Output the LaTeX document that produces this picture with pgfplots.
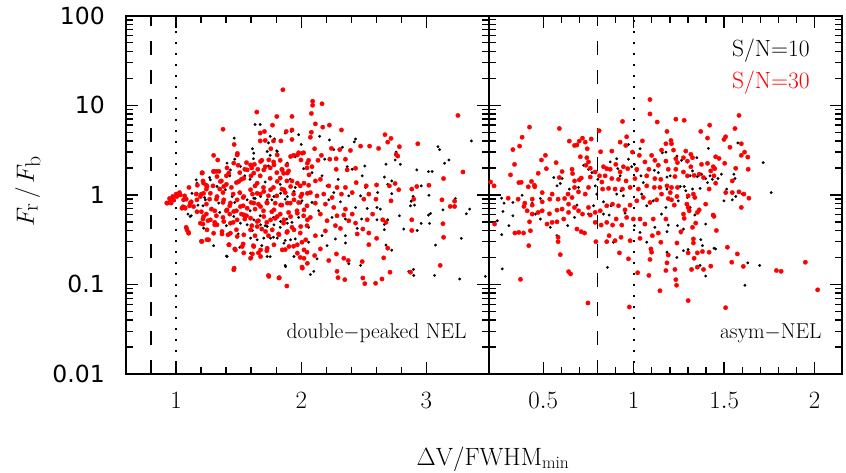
\documentclass[border=0pt]{standalone}
\usepackage{fontspec}
\usepackage{pgfplots}
\pgfplotsset{compat=1.18}
\newfontfamily\dvs{DejaVu Sans}
\definecolor{myred}{RGB}{255,0,0}
\pgfplotsset{
  mypanelopts/.style={
    scale only axis, height=358.3pt,
    ymin=0.01, ymax=100,
    ytick={0.01,0.1,1,10,100},
    minor ytick={0.02,0.03,0.04,0.05,0.06,0.07,0.08,0.09,0.2,0.3,0.4,0.5,0.6,0.7,0.8,0.9,2,3,4,5,6,7,8,9,20,30,40,50,60,70,80,90},
    tick align=inside,
    major tick length=12pt, minor tick length=7pt,
    axis line style={line width=1.8pt},
    major tick style={line width=1.4pt, black},
    minor tick style={line width=1.4pt, black},
    xticklabel style={font=\fontsize{23}{25}\selectfont, anchor=base, yshift=-34pt},
    yticklabel style={anchor=east, inner sep=0pt, xshift=-21pt},
  },
}
\tikzset{
  myblk/.style={black, mark=*, mark size=1.35pt, mark options={draw=black, fill=black, line width=0.2pt}},
  myrd/.style={myred, mark=*, mark size=2.2pt, mark options={draw=myred, fill=myred, line width=0.3pt}},
  dashln/.style={black, line width=1.9pt, dash pattern=on 14pt off 15pt},
  dotln/.style={black, line width=1.7pt, dash pattern=on 1.7pt off 9.3pt},
}
\begin{document}
\begin{tikzpicture}
\path[use as bounding box] (0,0) rectangle (846pt,472pt);
% ---------------- left panel: double-peaked NEL ----------------
\begin{axis}[ymode=log, mypanelopts, at={(126pt,98pt)}, anchor=south west, width=363pt,
  xmin=0.6, xmax=3.5, xtick={1,2,3}, minor x tick num=4,
  yticklabels={\mbox{\dvs\fontsize{23.5}{25}\selectfont 0.01},\mbox{\dvs\fontsize{23.5}{25}\selectfont 0.1},\mbox{\dvs\fontsize{23.5}{25}\selectfont 1},\mbox{\dvs\fontsize{23.5}{25}\selectfont 10},\mbox{\dvs\fontsize{23.5}{25}\selectfont 100}},
  ylabel={$F_{\mathrm{r}}\,/\,F_{\mathrm{b}}$},
  ylabel style={font=\fontsize{31}{33}\selectfont, at={(axis description cs:-0.27,0.51)}, anchor=center},
  xlabel={$\Delta\mathrm{V/FWHM_{min}}$},
  xlabel style={font=\fontsize{25}{27}\selectfont, at={(axis description cs:1.011,-0.254)}, anchor=base},
]
\addplot[dashln] coordinates {(0.8,0.01) (0.8,100)};
\addplot[dotln] coordinates {(1,0.01) (1,100)};
% S/N=10 (black)
\addplot[only marks, myblk] coordinates {
(1.464,4.3)(1.469,2.5)(1.161,1.47)(0.988,0.858)(1.175,0.768)(1.215,0.755)(1.095,0.61)(1.121,0.584)(1.402,0.453)(1.30,0.271)(1.402,0.207)(1.509,0.26)(1.496,0.366)(1.349,0.637)(1.228,0.934)(1.549,1.63)(1.429,1.63)(1.469,0.822)(1.268,1.56)
(1.631,6.1)(1.672,6.1)(1.872,4.9)(1.92,5.1)(1.979,4.7)(2.073,5.0)(2.147,4.5)(2.434,4.2)(2.423,3.9)(1.786,4.2)(1.738,3.8)(1.752,4.5)(1.61,3.27)(1.805,3.1)(2.0,3.65)(2.225,4.1)(2.329,3.4)(2.26,3.2)
(1.618,2.53)(1.752,2.76)(1.952,2.66)(2.188,2.5)(2.367,2.06)(2.508,2.1)(2.407,1.93)(1.738,2.1)(2.019,1.96)(2.086,1.77)(2.166,1.63)(2.295,1.49)(2.487,1.63)
(1.591,1.49)(1.712,1.39)(1.832,1.31)(1.912,1.49)(1.952,1.21)(2.206,1.26)(2.26,1.06)(2.38,0.975)(2.474,0.975)(2.514,1.21)
(1.631,0.91)(1.765,0.88)(1.872,0.895)(2.006,0.858)(2.086,0.822)(2.22,0.88)(2.313,0.836)(2.434,0.723)(2.527,0.705)
(1.591,0.664)(1.672,0.584)(1.778,0.56)(1.885,0.537)(1.979,0.56)(2.139,0.664)(2.246,0.56)(2.353,0.537)(2.482,0.537)
(1.61,0.4)(1.712,0.453)(1.832,0.434)(1.926,0.493)(2.059,0.434)(2.166,0.35)(2.273,0.322)(2.353,0.35)(2.447,0.422)
(1.778,0.336)(1.872,0.31)(1.952,0.322)(2.059,0.296)(2.206,0.271)(2.353,0.29)(1.685,0.271)
(1.605,0.2)(1.752,0.204)(1.966,0.229)(2.126,0.193)(2.38,0.17)(2.474,0.163)(1.872,0.163)(2.073,0.129)(2.1,0.14)
(3.359,4.0)(3.092,3.45)(3.105,3.2)(2.758,3.0)(2.75,2.45)(2.792,2.19)(3.18,2.45)(3.145,2.25)(2.923,1.9)(3.017,1.82)(3.046,1.82)(2.677,2.2)
(2.664,1.58)(2.691,1.31)(2.723,1.43)(2.958,1.26)(2.723,1.03)(2.61,1.06)(2.894,0.96)(3.02,0.99)(2.878,0.85)(2.873,0.755)(2.905,0.768)(3.231,0.91)
(2.605,0.723)(2.632,0.693)(2.784,0.584)(3.017,0.595)(3.033,0.62)(3.132,0.68)(3.346,0.693)(3.319,0.615)
(2.605,0.527)(2.691,0.527)(2.664,0.468)(2.958,0.48)(3.025,0.48)(2.819,0.415)(2.664,0.408)(2.926,0.4)
(3.279,0.327)(3.073,0.275)(2.677,0.275)(2.723,0.241)(2.859,0.139)(2.897,0.147)(2.899,0.126)(3.065,0.126)(3.266,0.115)(3.471,0.123)
(1.167,1.04)(1.234,0.88)(1.287,0.71)(1.341,0.81)(1.394,1.14)(1.448,0.958)(1.514,1.04)(1.568,0.88)(1.621,0.918)(1.675,0.958)(1.728,0.88)(1.782,0.958)(1.835,1.04)(1.889,0.958)(1.942,1.09)(1.996,0.81)(2.049,0.74)
(1.461,0.573)(1.514,0.483)(1.568,0.463)(1.621,0.526)(1.675,0.463)(1.728,0.443)(1.782,0.463)(1.835,0.504)(1.889,0.483)(1.595,0.329)(1.648,0.315)(1.701,0.329)(1.755,0.329)(1.808,0.329)(1.862,0.289)(1.915,0.315)
(1.434,1.9)(1.407,2.26)(1.514,2.08)(1.621,2.92)(1.728,3.05)(1.808,3.05)(1.889,2.26)(1.22,0.425)(1.113,0.573)(1.407,0.205)(1.595,0.223)(1.728,0.205)(1.875,0.158)(1.942,0.205)(1.327,1.24)(1.274,1.47)(1.167,1.35)(1.127,1.04)
};
% S/N=30 (red)
\addplot[only marks, myrd] coordinates {
(1.375,5.4)(1.464,3.65)(1.30,2.76)(1.333,2.45)(1.49,2.9)(1.407,2.0)(1.21,1.77)(1.30,1.83)(1.322,1.83)(1.343,1.83)(1.17,1.28)(1.242,1.28)(1.103,1.21)(1.028,1.06)
(1.001,1.02)(0.974,0.96)(0.948,0.91)(0.932,0.81)(0.961,0.81)(1.068,0.975)(1.081,0.895)(1.121,0.836)(1.108,0.755)(1.068,0.723)(1.055,0.736)(1.161,1.02)(1.242,0.788)
(1.167,0.648)(1.202,0.648)(1.242,0.61)(1.215,0.537)(1.255,0.514)(1.309,0.493)(1.309,0.464)(1.215,0.472)(1.081,0.434)(1.10,0.381)(1.202,0.303)(1.247,0.316)(1.464,0.152)
(1.367,0.366)(1.415,0.359)(1.424,0.278)(1.469,0.249)(1.536,0.283)(1.541,0.225)(1.482,0.408)
(1.375,0.56)(1.322,0.584)(1.282,0.693)(1.309,0.664)(1.402,0.664)(1.429,0.61)(1.482,0.664)(1.522,0.61)(1.549,0.537)(1.456,0.493)(1.429,0.755)(1.375,0.822)(1.322,0.895)(1.268,0.895)
(1.202,1.02)(1.242,1.16)(1.295,1.26)(1.362,1.43)(1.402,1.31)(1.442,1.21)(1.482,1.37)(1.522,1.49)(1.509,1.77)(1.563,2.29)(1.549,1.93)(1.496,2.14)(1.402,1.63)(1.349,1.16)(1.375,1.06)(1.456,1.02)(1.509,1.06)(1.536,0.934)(1.536,0.755)(1.563,0.584)(1.215,1.43)
(1.853,14.9)(2.091,11.1)(2.091,10)(2.166,10.4)(2.081,8.1)(1.645,8.4)(1.805,7.5)(1.926,7.5)(1.77,6.0)(2.113,6.2)(2.225,6.0)(2.172,5.7)(2.321,5.3)(1.88,5.1)(1.926,5.3)(1.706,5.1)(1.672,4.9)(2.081,5.0)(2.073,4.4)
(1.672,4.0)(1.712,4.05)(1.778,4.0)(1.837,4.0)(1.926,4.15)(1.757,3.27)(2.107,3.27)(2.241,3.3)(2.308,3.2)(2.474,3.5)(2.546,3.5)(2.393,3.13)(1.979,2.95)(2.019,2.95)(1.939,2.76)(2.161,2.76)
(2.228,2.5)(2.279,2.53)(2.353,2.5)(1.998,2.45)(2.059,2.43)(2.134,2.43)(1.685,2.43)(1.779,2.33)(1.832,2.43)(1.885,2.15)(2.086,2.06)(2.046,2.0)(2.279,1.93)(2.434,1.98)(2.367,1.9)(1.845,1.93)(1.899,1.85)
(1.626,2.19)(1.605,2.0)(1.653,1.93)(1.712,2.06)(1.752,2.0)(1.805,1.77)(1.859,1.74)(1.672,1.63)(1.599,1.63)(1.752,1.53)(1.832,1.54)(1.885,1.43)(1.926,1.43)(1.992,1.26)(2.059,1.28)(2.113,1.43)(2.153,1.49)
(2.22,1.26)(2.286,1.21)(2.353,1.21)(2.439,1.37)(2.519,1.26)(2.321,1.02)(2.407,1.06)(2.5,0.895)(2.54,1.02)(1.631,1.26)(1.698,1.21)(1.778,1.21)(1.845,1.16)(1.61,1.02)(1.672,1.02)(1.738,0.975)(1.805,0.975)
(1.872,1.06)(1.939,1.02)(2.006,1.02)(2.073,1.06)(2.126,0.975)(2.18,1.02)(2.246,0.934)(1.599,0.822)(1.658,0.788)(1.725,0.822)(1.792,0.808)(1.845,0.768)(1.912,0.808)(1.979,0.822)(2.046,0.755)(2.113,0.808)(2.193,0.788)
(2.26,0.723)(2.353,0.693)(2.407,0.61)(1.631,0.693)(1.698,0.664)(1.765,0.648)(1.832,0.61)(1.899,0.637)(1.966,0.664)(2.019,0.584)(2.073,0.56)(2.153,0.61)(2.206,0.514)(2.286,0.584)(2.34,0.595)(2.38,0.514)(2.434,0.484)(2.527,0.527)
(1.658,0.514)(1.725,0.493)(1.792,0.546)(1.859,0.484)(1.926,0.434)(2.046,0.453)(1.605,0.453)(1.685,0.415)(2.273,0.453)(2.193,0.396)(2.313,0.422)(2.447,0.366)(2.492,0.415)(2.54,0.375)
(1.631,0.35)(1.738,0.35)(1.819,0.366)(1.885,0.381)(1.992,0.375)(2.113,0.35)(2.006,0.296)(1.618,0.271)(1.725,0.238)(1.658,0.225)(1.872,0.245)(1.939,0.267)(2.046,0.229)(2.153,0.249)(2.107,0.21)
(2.22,0.185)(2.281,0.219)(2.34,0.196)(2.375,0.185)(1.992,0.2)(2.006,0.156)(1.61,0.219)(1.738,0.126)(1.824,0.119)(1.885,0.096)(2.286,0.14)(2.294,0.119)(2.348,0.113)(2.487,0.18)(2.492,0.118)(2.508,0.102)(2.54,0.278)
(3.252,7.7)(2.669,4.7)(2.717,4.27)(2.691,3.88)(2.618,3.3)(2.784,3.45)(2.931,3.72)(2.758,2.83)(2.771,2.71)(3.292,1.8)(3.137,1.52)(2.602,1.29)(2.75,1.34)(2.704,1.26)(2.779,1.14)(2.883,1.16)(2.923,1.24)(3.02,1.28)
(2.899,0.895)(2.597,0.895)(2.717,0.858)(3.124,0.88)(3.225,0.85)(3.19,0.742)(3.225,0.742)(2.57,0.61)(2.651,0.527)(2.677,0.493)(2.883,0.527)(3.132,0.476)(2.883,0.4)(2.602,0.327)(2.691,0.254)(2.659,0.198)
(2.709,0.137)(2.873,0.137)(3.11,0.163)(3.137,0.336)(2.645,0.115)(2.594,0.103)
(0.926,0.81)(0.953,0.843)(0.98,0.88)(1.007,0.958)(1.033,1.0)(1.06,0.88)(1.073,0.71)(1.047,0.71)(1.113,0.81)(1.14,0.74)(1.167,0.88)(1.194,0.958)(1.22,1.04)(1.207,1.75)(1.30,1.82)(1.327,1.6)
(1.354,1.41)(1.381,1.24)(1.421,1.75)(1.461,2.26)(1.488,2.79)(1.501,1.41)(1.541,1.53)(1.568,1.9)(1.595,2.16)(1.621,1.75)(1.648,1.35)(1.675,2.36)(1.701,1.9)(1.741,2.46)(1.782,2.16)(1.808,2.79)
(1.848,1.9)(1.889,1.75)(1.915,2.68)(1.969,2.79)(2.009,2.92)(2.049,2.26)(2.062,1.67)(2.022,1.35)(1.969,1.35)(1.915,1.24)(1.862,1.14)(1.808,1.41)(1.755,1.14)(1.701,1.09)(1.648,1.04)(1.595,1.14)
(1.541,0.958)(1.488,0.88)(1.434,0.81)(1.381,0.88)(1.327,0.958)(1.274,1.04)(1.247,1.24)(1.22,1.35)(1.407,0.68)(1.461,0.652)(1.514,0.74)(1.568,0.71)(1.621,0.81)(1.675,0.74)(1.728,0.81)(1.782,0.68)
(1.835,0.77)(1.889,0.81)(1.942,0.88)(1.996,0.958)(2.049,1.04)(2.022,0.68)(1.969,0.624)(1.915,0.573)(1.862,0.526)(1.808,0.573)(1.755,0.526)(1.701,0.573)(1.648,0.504)(1.595,0.549)(1.541,0.598)
(1.488,0.526)(1.434,0.483)(1.381,0.504)(1.327,0.463)(1.274,0.526)(1.22,0.573)(1.194,0.483)(1.247,0.407)(1.30,0.373)(1.367,0.39)(1.434,0.373)(1.488,0.343)(1.541,0.358)(1.595,0.407)(1.648,0.443)
(1.715,0.39)(1.768,0.407)(1.822,0.358)(1.889,0.39)(1.942,0.407)(1.996,0.443)(2.049,0.526)(1.087,0.407)(1.10,0.373)(1.207,0.302)(1.26,0.315)(1.421,0.277)(1.474,0.243)(1.528,0.265)(1.621,0.265)
(1.675,0.243)(1.728,0.254)(1.782,0.277)(1.848,0.243)(1.902,0.265)(1.969,0.277)(2.022,0.243)(2.036,0.315)(1.461,0.146)(1.741,0.123)(1.822,0.118)(2.009,0.152)(2.049,0.172)(2.022,0.196)(1.969,0.223)
(1.595,0.196)(1.675,0.205)
};
\node[anchor=base east, font=\fontsize{21.5}{23}\selectfont] at (rel axis cs:0.948,0.100) {double$-$peaked NEL};
\end{axis}
% ---------------- right panel: asym-NEL ----------------
\begin{axis}[ymode=log, mypanelopts, at={(489pt,98pt)}, anchor=south west, width=352.7pt,
  xmin=0.2, xmax=2.15, xtick={0.5,1,1.5,2}, minor x tick num=4,
  yticklabels={},
]
\addplot[dashln] coordinates {(0.8,0.01) (0.8,100)};
\addplot[dotln] coordinates {(1,0.01) (1,100)};
\addplot[only marks, myblk] coordinates {
(0.27,0.918)(0.283,0.808)(0.277,0.653)(0.246,0.514)(0.27,0.36)(0.273,0.149)(0.31,0.453)(0.332,0.584)(0.332,0.822)(0.383,0.99)(0.439,0.808)(0.457,0.61)(0.484,0.537)(0.484,0.91)
(0.539,0.434)(0.576,0.35)(0.576,1.26)(0.594,1.34)(0.558,1.56)(0.604,1.52)(0.635,0.453)(0.644,1.16)(0.673,0.56)(0.686,0.768)(0.695,1.21)(0.723,2.14)(0.75,1.93)(0.769,1.77)
(0.75,0.61)(0.778,0.755)(0.796,1.02)(0.787,1.26)(0.802,1.49)(0.833,0.836)(0.833,0.61)(0.864,0.595)(0.875,0.755)(0.888,0.296)(0.855,0.155)(0.87,2.33)(0.906,2.53)(0.912,1.96)(0.925,1.63)
(0.93,1.11)(0.906,1.02)(0.943,0.975)(0.952,0.625)(1.004,0.453)(1.035,0.381)(0.989,2.06)(1.017,1.85)(1.04,1.63)(1.053,1.37)(0.971,3.65)(0.971,2.5)(1.004,2.19)(1.035,3.27)(1.044,1.02)
(1.072,0.755)(1.108,0.858)(1.114,1.88)(1.136,1.77)(1.158,2.95)(1.154,0.61)(1.117,0.434)(1.072,0.296)
(1.413,3.3)(1.576,3.8)(1.716,2.29)(1.76,1.06)(1.178,3.0)(1.239,2.71)(1.264,2.43)(1.297,2.33)(1.349,2.6)(1.325,1.85)(1.312,1.63)(1.352,1.6)(1.375,1.7)(1.398,1.52)(1.422,1.63)(1.435,1.49)
(1.466,1.52)(1.485,1.7)(1.554,1.7)(1.56,1.52)(1.408,1.37)(1.367,1.18)(1.514,1.16)(1.564,0.96)(1.6,1.02)(1.184,1.58)(1.202,1.63)(1.257,1.24)(1.279,1.24)(1.288,1.11)(1.184,1.16)(1.246,0.858)
(1.297,0.934)(1.325,1.16)(1.499,0.858)(1.545,0.88)(1.178,0.723)(1.312,0.723)(1.338,0.595)(1.358,0.643)(1.398,0.472)(1.191,0.46)(1.242,0.453)(1.261,0.375)(1.275,0.415)(1.184,0.388)
(1.371,0.316)(1.38,0.271)(1.444,0.254)(1.453,0.249)(1.275,0.238)(1.301,0.245)(1.184,0.229)(1.239,0.2)(1.367,0.163)(1.398,0.124)(1.631,0.174)(1.696,0.163)(1.615,0.098)
};
\addplot[only marks, myrd] coordinates {
(0.374,0.114)(0.424,5.7)(0.589,5.5)(0.383,4.4)(0.332,3.2)(0.369,3.5)(0.341,2.19)(0.319,1.67)(0.365,1.37)(0.378,1.38)(0.435,1.41)(0.417,1.23)(0.451,1.28)(0.453,1.23)(0.472,1.74)(0.49,2.45)
(0.512,2.76)(0.517,1.96)(0.571,2.29)(0.589,1.56)(0.644,3.98)(0.673,3.56)(0.686,3.6)(0.699,3.98)(0.717,4.3)(0.732,3.88)(0.743,3.27)(0.765,4.2)(0.809,5.2)(0.817,3.03)(0.705,2.66)(0.741,2.6)
(0.75,2.33)(0.736,2.14)(0.76,1.98)(0.659,1.93)(0.662,1.73)(0.604,1.82)(0.71,1.54)(0.673,1.43)(0.699,1.47)(0.76,1.58)(0.787,1.8)(0.833,2.06)(0.851,1.96)(0.879,3.08)(0.925,3.88)(0.961,4.45)
(0.956,3.56)(0.938,6.6)(1.048,4.0)(0.993,3.0)(1.031,2.76)(1.09,11.6)(1.09,8.0)(1.13,6.5)(1.099,2.76)(1.117,2.43)(1.136,2.14)(1.154,3.16)(1.062,2.33)(1.084,1.93)(0.901,2.19)(0.943,2.06)
(0.925,1.8)(0.967,1.96)(1.017,1.93)(0.87,1.93)(0.842,1.63)(0.879,1.52)(0.811,1.63)(0.824,1.39)(0.916,1.49)(0.958,1.43)(1.007,1.52)(1.072,1.63)(1.117,1.52)(1.15,1.49)(1.145,1.21)(1.154,1.02)
(1.114,1.21)(1.072,1.26)(1.026,1.16)(0.98,1.21)(0.938,1.16)(0.897,1.16)(0.861,1.18)(0.828,1.16)(0.75,1.21)(0.732,1.02)(0.695,1.08)(0.673,1.21)(0.637,1.02)(0.659,0.934)(0.618,0.91)(0.582,0.895)
(0.549,1.02)(0.536,0.895)(0.494,0.836)(0.494,1.06)(0.439,0.895)(0.398,0.808)(0.393,0.742)(0.439,0.768)(0.306,0.918)(0.361,0.895)(0.228,1.26)(0.209,1.39)(0.472,0.637)(0.494,0.664)(0.439,0.61)(0.411,0.664)
(0.534,0.615)(0.576,0.675)(0.604,0.693)(0.64,0.788)(0.673,0.723)(0.695,0.664)(0.75,0.723)(0.717,0.61)(0.76,0.595)(0.787,0.637)(0.815,0.664)(0.851,0.755)(0.883,0.788)(0.916,0.755)(0.952,0.68)(0.98,0.768)
(1.017,0.858)(1.053,0.934)(1.09,0.822)(1.127,0.88)(0.549,0.493)(0.521,0.472)(0.576,0.5)(0.613,0.537)(0.64,0.637)(0.686,0.415)(0.71,0.388)(0.728,0.375)(0.787,0.493)(0.82,0.46)(0.851,0.493)(0.883,0.46)
(0.903,0.537)(0.934,0.46)(0.961,0.56)(0.998,0.537)(1.035,0.537)(1.062,0.472)(1.108,0.537)(0.864,0.35)(0.851,0.3)(0.897,0.308)(0.93,0.336)(0.98,0.308)(1.035,0.327)(1.103,0.35)(1.136,0.375)(1.15,0.296)
(0.791,0.3)(0.582,0.3)(0.582,0.336)(0.42,0.271)(0.429,0.398)(0.424,0.5)(0.391,0.375)(0.365,0.381)(0.343,0.375)(0.231,0.472)(0.594,0.215)(0.64,0.139)(0.651,0.131)(0.921,0.225)(0.971,0.193)(1.022,0.135)
(1.095,0.249)(1.099,0.229)(1.09,0.19)(1.084,0.126)(1.145,0.085)(0.747,0.062)(0.976,0.056)
(1.582,7.7)(1.56,5.5)(1.42,6.0)(1.233,7.0)(1.279,6.8)(1.371,5.1)(1.184,5.1)(1.408,4.3)(1.508,4.45)(1.499,4.15)(1.206,4.05)(1.178,3.72)(1.209,3.72)(1.595,3.72)(1.532,3.4)(1.613,3.0)(1.631,2.64)
(1.595,2.76)(1.453,2.66)(1.472,2.55)(1.503,2.25)(1.288,3.08)(1.316,2.83)(1.325,2.6)(1.22,3.16)(1.233,2.53)(1.242,2.29)(1.178,2.38)(1.275,2.6)(1.297,2.38)(1.316,2.06)(1.375,2.19)(1.408,2.25)
(1.44,2.06)(1.426,1.85)(1.448,1.96)(1.564,1.98)(1.633,1.93)(1.191,1.93)(1.233,1.93)(1.228,1.6)(1.275,1.8)(1.297,1.63)(1.334,1.65)(1.362,1.7)(1.386,1.56)(1.444,1.63)(1.545,1.43)(1.453,1.35)
(1.417,1.16)(1.509,1.06)(1.545,1.06)(1.582,1.08)(1.609,1.02)(1.637,0.918)(1.595,0.723)(1.184,1.26)(1.209,1.21)(1.242,1.21)(1.202,1.06)(1.239,0.96)(1.209,0.88)(1.191,0.91)(1.224,0.768)(1.301,0.975)
(1.33,1.02)(1.338,0.934)(1.294,0.788)(1.301,0.723)(1.362,0.68)(1.352,0.637)(1.398,0.788)(1.439,0.595)(1.444,0.575)(1.275,0.61)(1.279,0.546)(1.307,0.664)(1.343,0.484)(1.325,0.434)(1.261,0.388)
(1.457,0.4)(1.178,0.537)(1.239,0.29)(1.33,0.322)(1.33,0.29)(1.191,0.213)(1.184,0.174)(1.178,0.143)(1.228,0.147)(1.301,0.225)(1.352,0.225)(1.334,0.196)(1.38,0.233)(1.417,0.229)(1.352,0.156)
(1.32,0.147)(1.386,0.147)(1.426,0.16)(1.518,0.26)(1.573,0.219)(1.542,0.177)(1.606,0.159)(1.233,0.113)(1.237,0.098)(1.301,0.066)(1.508,0.055)(1.949,0.177)(1.789,0.143)(1.815,0.14)(2.017,0.087)
};
\node[anchor=base east, font=\fontsize{21.5}{23}\selectfont] at (rel axis cs:0.953,0.100) {asym$-$NEL};
\node[anchor=base east, font=\fontsize{23.5}{25}\selectfont, text=black] at (rel axis cs:0.919,0.885) {S/N=10};
\node[anchor=base east, font=\fontsize{23.5}{25}\selectfont, text=myred] at (rel axis cs:0.919,0.798) {S/N=30};
\end{axis}
\end{tikzpicture}
\end{document}
